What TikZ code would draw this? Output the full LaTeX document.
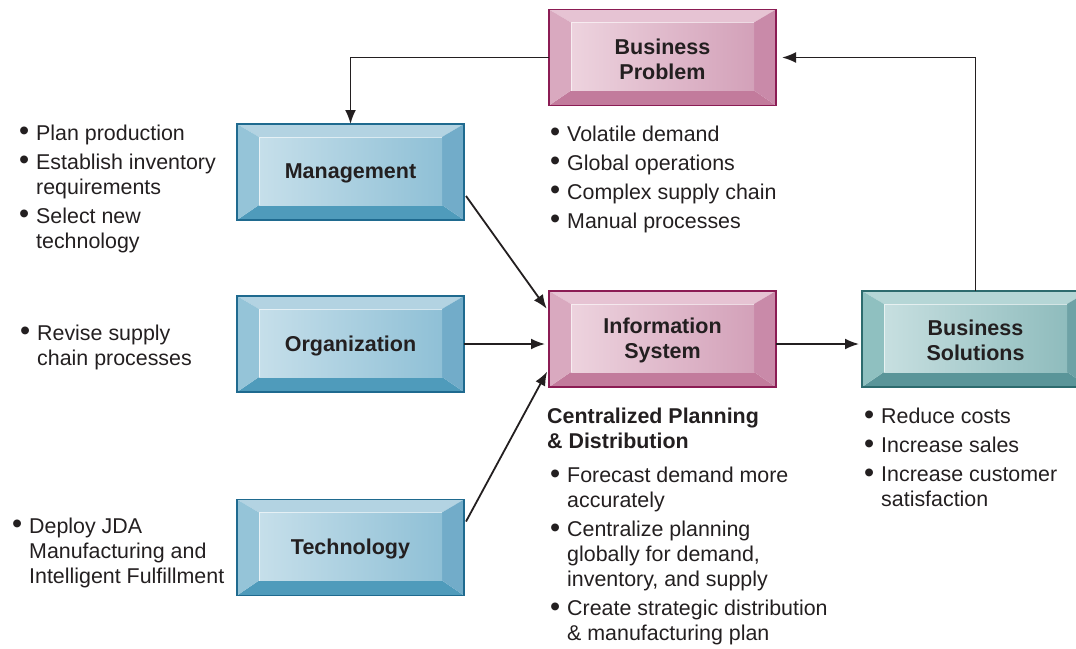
\documentclass[tikz,border=0pt]{standalone}
\usepackage{fontspec}
\usepackage{graphicx}
\setmainfont{Liberation Sans}
\usetikzlibrary{arrows.meta}
\definecolor{ink}{HTML}{231F20}
% blue palette
\definecolor{bltop}{HTML}{B3D3E2}
\definecolor{blleft}{HTML}{95C4D8}
\definecolor{blright}{HTML}{72ACC9}
\definecolor{blbot}{HTML}{4F9BBB}
\definecolor{blinL}{HTML}{C6DFEA}
\definecolor{blinR}{HTML}{8FC0D6}
\definecolor{blline}{HTML}{1F6A8F}
% pink palette
\definecolor{pktop}{HTML}{E6C3D3}
\definecolor{pkleft}{HTML}{D9A9BF}
\definecolor{pkright}{HTML}{C98AA9}
\definecolor{pkbot}{HTML}{C27B9C}
\definecolor{pkinL}{HTML}{EDD3DE}
\definecolor{pkinR}{HTML}{D3A1B9}
\definecolor{pkline}{HTML}{8B1C54}
% teal palette
\definecolor{tltop}{HTML}{B5D6D6}
\definecolor{tlleft}{HTML}{8FC0C0}
\definecolor{tlright}{HTML}{6EA2A6}
\definecolor{tlbot}{HTML}{5A9599}
\definecolor{tlinL}{HTML}{C7DFE0}
\definecolor{tlinR}{HTML}{8FBCBD}
\definecolor{tlline}{HTML}{2D6B6E}

\newcommand\bevelbox[2]{%
 \fill[#2top] (#1.north west) -- (#1.north east) -- ([shift={(-22,13)}]#1.north east) -- ([shift={(22,13)}]#1.north west) -- cycle;
 \fill[#2bot] (#1.south west) -- (#1.south east) -- ([shift={(-22,-15)}]#1.south east) -- ([shift={(22,-15)}]#1.south west) -- cycle;
 \fill[#2left] (#1.north west) -- ([shift={(22,13)}]#1.north west) -- ([shift={(22,-15)}]#1.south west) -- (#1.south west) -- cycle;
 \fill[#2right] (#1.north east) -- ([shift={(-22,13)}]#1.north east) -- ([shift={(-22,-15)}]#1.south east) -- (#1.south east) -- cycle;
 \shade[left color=#2inL, right color=#2inR] ([shift={(22,13)}]#1.north west) rectangle ([shift={(-22,-15)}]#1.south east);
 \draw[white, opacity=.6, line width=1pt] ([shift={(22,-15)}]#1.south west) -- ([shift={(22,13)}]#1.north west) -- ([shift={(-22,13)}]#1.north east);
 \draw[#2line, line width=1.2pt] (#1.north west) rectangle (#1.south east);
}
\newcommand\bu{\makebox[17pt][l]{\raisebox{-0.6pt}{\scalebox{1.35}{\textbullet}}}}
\newcommand\ind{\hspace*{17pt}}

\tikzset{
  bevbox/.style={minimum width=227pt, minimum height=96pt, inner sep=0pt, outer sep=0pt},
  boxlabel/.style={font=\fontsize{21.5}{25}\selectfont\bfseries, text=ink, align=center, inner sep=0pt},
  notes/.style={font=\fontsize{21.4}{25}\selectfont, text=ink, align=left, anchor=north west, inner sep=0pt},
  flow/.style={draw=ink, line width=1.8pt, -{Latex[length=14pt,width=11pt]}},
}

\begin{document}
\begin{tikzpicture}[x=1pt, y=-1pt]
\clip (0,0) rectangle (1076,648);
\useasboundingbox (0,0) rectangle (1076,648);

% boxes
\node[bevbox] (prob) at (662.5,57.5) {};
\node[bevbox] (mgmt) at (350.5,172) {};
\node[bevbox] (org)  at (350.5,344) {};
\node[bevbox] (tech) at (350.5,547.5) {};
\node[bevbox] (info) at (662.5,339) {};
\node[bevbox] (sol)  at (975.5,339) {};

\bevelbox{prob}{pk}
\bevelbox{mgmt}{bl}
\bevelbox{org}{bl}
\bevelbox{tech}{bl}
\bevelbox{info}{pk}
\bevelbox{sol}{tl}

\node[boxlabel] (prob-t) at ([yshift=-1.5pt]prob) {Business\\Problem};
\node[boxlabel] (mgmt-t) at ([yshift=-1.5pt]mgmt) {Management};
\node[boxlabel] (org-t)  at ([yshift=-1.5pt]org)  {Organization};
\node[boxlabel] (tech-t) at ([yshift=-1.5pt]tech) {Technology};
\node[boxlabel] (info-t) at ([yshift=-1.5pt]info) {Information\\System};
\node[boxlabel] (sol-t)  at ([yshift=-1.5pt]sol)  {Business\\Solutions};

% connectors
\draw[flow] (prob.west) -| (mgmt.north);
\draw[flow, shorten >=6pt] (sol.north) |- (prob.east);
\draw[flow, shorten >=4pt] ([xshift=2pt,yshift=-24pt]mgmt.east) -- ([yshift=27pt]info.west);
\draw[flow, shorten >=4pt] (org.east) -- (org.east -| info.west);
\draw[flow, shorten >=3pt] ([yshift=-5pt]info.east) -- ([yshift=-5pt]sol.west);
\draw[flow, shorten >=4pt] ([xshift=2pt,yshift=26pt]tech.east) -- ([yshift=-29pt]info.west);

% notes
\node[notes] (n-mgmt) at (19,122.5) {\strut\bu Plan production\\[4pt]
\bu Establish inventory\\ \ind requirements\\[4pt]
\bu Select new\\ \ind technology};
\node[notes] (n-org) at (20,322.5) {\strut\bu Revise supply\\ \ind chain processes};
\node[notes] (n-tech) at (12,515.5) {\strut\bu Deploy JDA\\ \ind Manufacturing and\\ \ind Intelligent Fulfillment};
\node[notes] (n-prob) at (550,123.5) {\strut\bu Volatile demand\\[4pt]
\bu Global operations\\[4pt]
\bu Complex supply chain\\[4pt]
\bu Manual processes};
\node[notes] (n-info) at (547,406) {\strut\textbf{Centralized Planning}\\ \textbf{\& Distribution}\\[9pt]
\hspace*{3pt}\bu Forecast demand more\\ \hspace*{3pt}\ind accurately\\[4pt]
\hspace*{3pt}\bu Centralize planning\\ \hspace*{3pt}\ind globally for demand,\\ \hspace*{3pt}\ind inventory, and supply\\[4pt]
\hspace*{3pt}\bu Create strategic distribution\\ \hspace*{3pt}\ind \& manufacturing plan};
\node[notes] (n-sol) at (864,406) {\strut\bu Reduce costs\\[4pt]
\bu Increase sales\\[4pt]
\bu Increase customer\\ \ind satisfaction};
\end{tikzpicture}
\end{document}
